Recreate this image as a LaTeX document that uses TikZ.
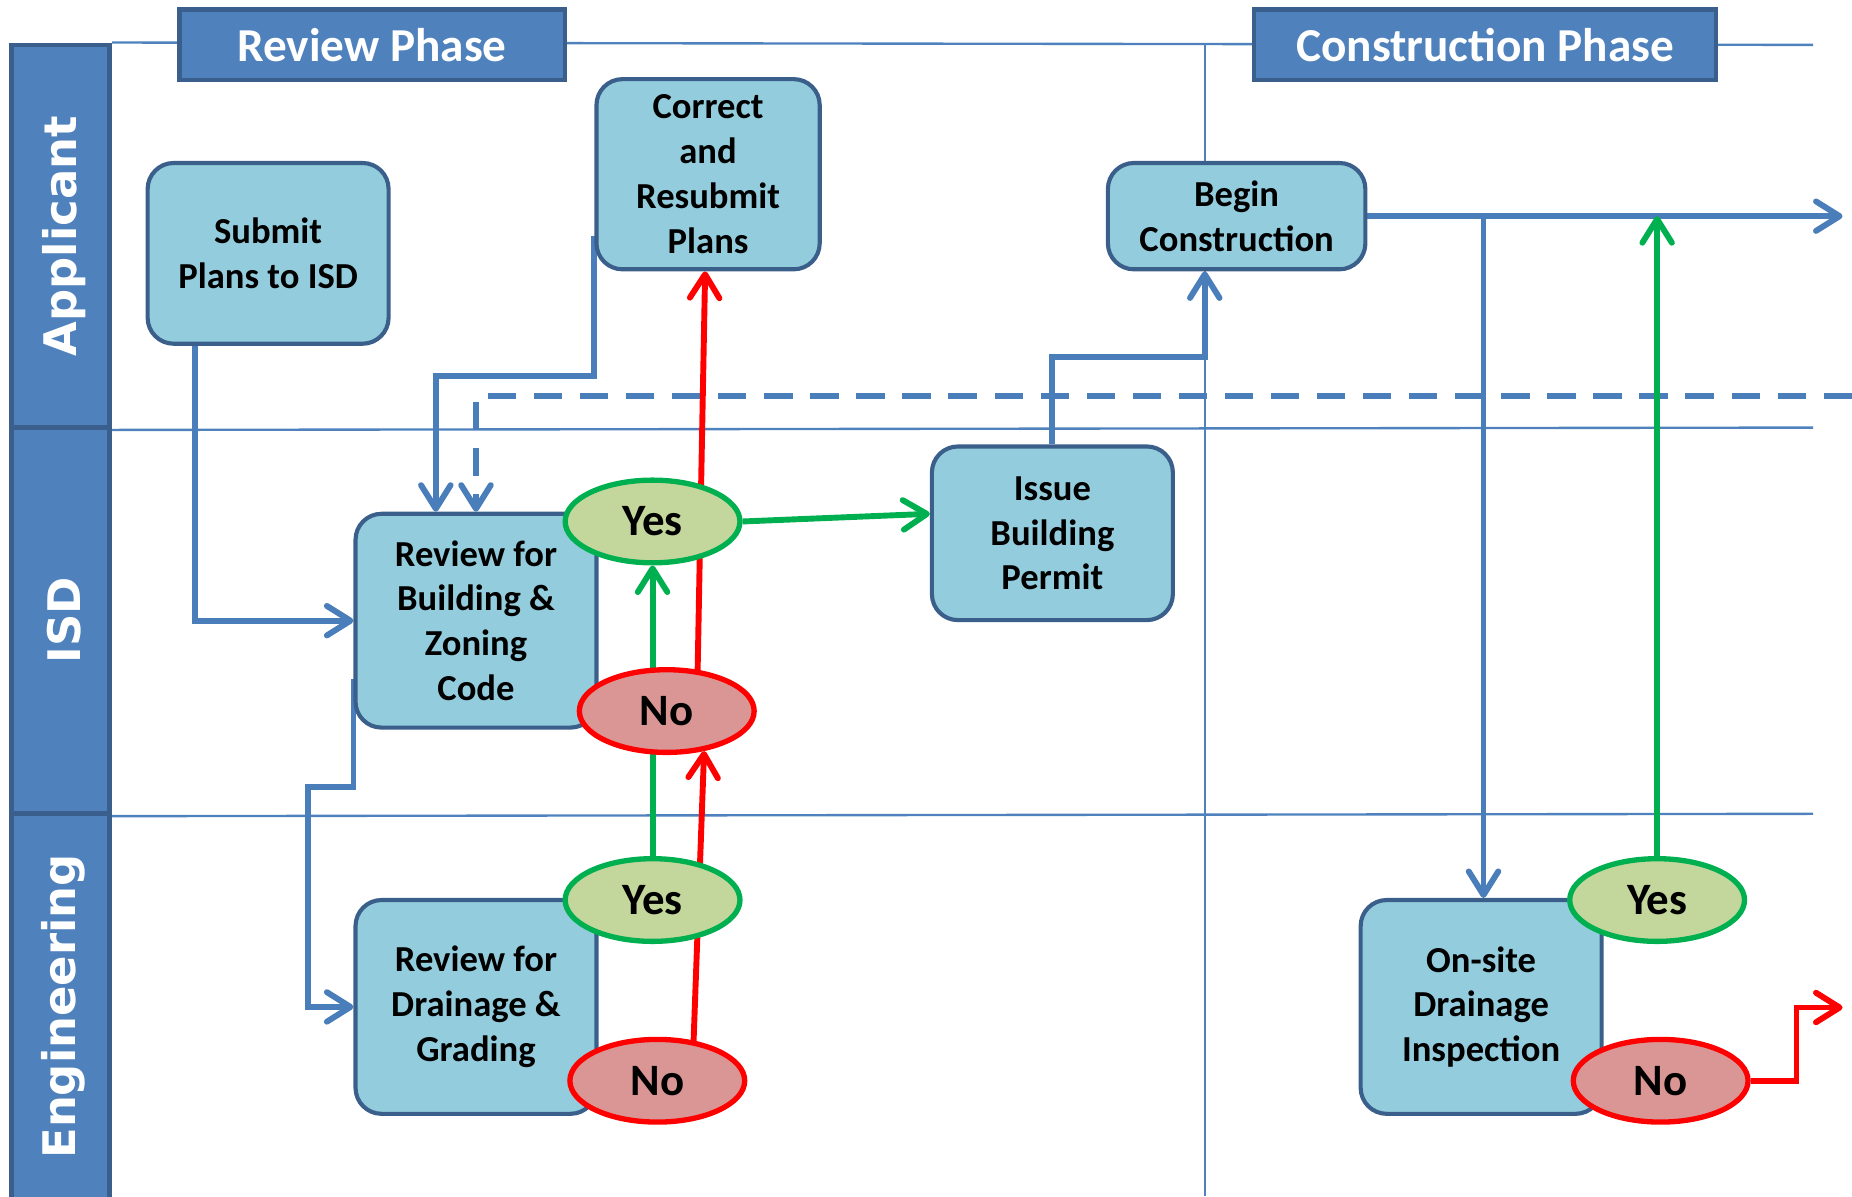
\documentclass[tikz,border=0pt]{standalone}
\usepackage{fontspec}
\setmainfont{Carlito}
\newfontfamily\lanefont{DejaVu Sans}
\usetikzlibrary{arrows.meta,shapes.geometric}

\definecolor{laneblue}{HTML}{4F81BD}
\definecolor{laneedge}{HTML}{3B5F8C}
\definecolor{procfill}{HTML}{93CDDD}
\definecolor{procedge}{HTML}{3A5F8B}
\definecolor{flowblue}{HTML}{4A7EBB}
\definecolor{yesfill}{HTML}{C3D69B}
\definecolor{yesedge}{HTML}{00B050}
\definecolor{nofill}{HTML}{D99694}
\definecolor{noedge}{HTML}{FF0000}

\pgfdeclarelayer{back}
\pgfsetlayers{back,main}

\tikzset{
  lanehead/.style={draw=laneedge, fill=laneblue, line width=4pt, minimum width=83pt, inner sep=0pt},
  laneline/.style={draw=laneblue, line width=2pt},
  lanelabel/.style={text=white, rotate=90, inner sep=0pt,
    font=\lanefont\bfseries\fontsize{38}{40}\selectfont},
  phasebox/.style={draw=laneedge, fill=laneblue, line width=3.5pt, text=white,
    minimum height=60pt, inner sep=0pt, font=\bfseries\fontsize{40}{48}\selectfont},
  process/.style={draw=procedge, fill=procfill, line width=3.5pt, rounded corners=22pt,
    align=center, inner sep=0pt, font=\bfseries\fontsize{31}{38}\selectfont},
  yesnode/.style={ellipse, draw=yesedge, fill=yesfill, line width=4.5pt,
    minimum width=148pt, minimum height=70pt, inner sep=0pt,
    font=\bfseries\fontsize{38}{40}\selectfont},
  nonode/.style={yesnode, draw=noedge, fill=nofill},
  flow/.style={line width=5pt, -{Straight Barb[length=20pt,width=25pt,round]}},
  blueflow/.style={flow, draw=flowblue},
  greenflow/.style={flow, draw=yesedge},
  redflow/.style={flow, draw=noedge},
  dashflow/.style={blueflow, dash pattern=on 24pt off 15pt}
}

\begin{document}
\begin{tikzpicture}[x=1pt, y=-1pt]
\path[use as bounding box] (0,0) rectangle (1568,1013);

% swimlane headers
\node[lanehead, minimum height=324pt] (hdapp) at (51.5,200) {};
\node[lanehead, minimum height=327pt] (hdisd) at (51.5,525.5) {};
\node[lanehead, minimum height=345pt] (hdeng) at (51.5,861.5) {};
\node[lanelabel] (lbapp) at (54,200) {Applicant};
\node[lanelabel] (lbisd) at (54,525) {ISD};
\node[lanelabel] (lbeng) at (54,852) {Engineering};

% phase titles
\node[phasebox, minimum width=326pt] (phrev) at (315,38) {Review Phase};
\node[phasebox, minimum width=391pt] (phcon) at (1257.5,38) {Construction Phase};

% process steps
\node[process, minimum width=204pt, minimum height=153pt] (submit) at (227,214.5) {Submit\\Plans to ISD};
\node[process, minimum width=189pt, minimum height=161pt] (correct) at (599.5,147.5) {Correct\\and\\Resubmit\\Plans};
\node[process, minimum width=218pt, minimum height=90pt] (begin) at (1047,183) {Begin\\Construction};
\node[process, minimum width=204pt, minimum height=147pt] (permit) at (891,451.5) {Issue\\Building\\Permit};
\node[process, minimum width=204pt, minimum height=181pt] (revbz) at (403,525.5) {Review for\\Building \&\\Zoning\\Code};
\node[process, minimum width=204pt, minimum height=181pt] (revdg) at (403,852.5) {Review for\\Drainage \&\\Grading};
\node[process, minimum width=204pt, minimum height=181pt] (inspect) at (1254,852.5) {On-site\\Drainage\\Inspection};

% decisions
\node[yesnode] (yes1) at (552.5,441.5) {Yes};
\node[nonode]  (no1)  at (564.5,602) {No};
\node[yesnode] (yes2) at (552.5,762) {Yes};
\node[nonode]  (no2)  at (556.5,915) {No};
\node[yesnode] (yes3) at (1403,762) {Yes};
\node[nonode]  (no3)  at (1406,915) {No};

\begin{pgfonlayer}{back}
  % lane and phase separators
  \draw[laneline] (hdapp.north east) -- (1535,38);
  \draw[laneline] (hdapp.south east) -- (1535,362);
  \draw[laneline] (hdisd.south east) -- (1535,689);
  \draw[laneline] (1020,38) -- (1020,1013);

  % blue flow
  \draw[blueflow] (submit.south -| 165,0) |- (revbz.west);
  \draw[blueflow] (correct.west |- 0,200) |- (369,318) -- (revbz.north -| 369,0);
  \draw[dashflow] (1568,335) -| (revbz.north -| 403,0);
  \draw[blueflow] (revbz.west |- 0,575) |- (261,666) |- (revdg.west);
  \draw[blueflow] (permit.north) |- (1020,302) -- (begin.south -| 1020,0);
  \draw[blueflow] (begin.east) -- (1560,183);
  \draw[blueflow] (begin.east -| 1256,0) -- (inspect.north -| 1256,0);

  % green flow
  \draw[greenflow] (yes1.east) -- (permit.west |- 0,435);
  \draw[greenflow] (yes2.north) -- (yes1.south);
  \draw[greenflow] (yes3.north) -- (yes3.north |- begin.east);

  % red flow
  \draw[redflow] (no1.center -| 590,0) -- (correct.south -| 597,0);
  \draw[redflow] (no2.center -| 586,0) -- (no1.-47);
  \draw[redflow] (no3.east) -| (1521,853) -- (1560,853);
\end{pgfonlayer}
\end{tikzpicture}
\end{document}
